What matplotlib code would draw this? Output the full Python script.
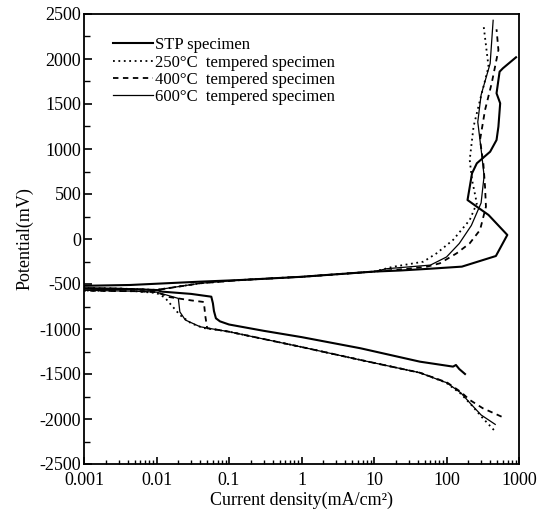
import matplotlib
matplotlib.use("Agg")
import matplotlib.pyplot as plt
from matplotlib.ticker import LogLocator, MultipleLocator, FixedLocator, NullFormatter

# ---- data: current density (mA/cm2) and potential (mV), in scan order ----
stp_i = [180, 150, 135, 123, 43, 6.5, 1, 0.3, 0.1, 0.075, 0.066, 0.062, 0.06, 0.057,
         0.03, 0.012, 0.01, 0.005, 0.002, 0.001,
         0.001, 0.0043, 0.04, 0.15, 1, 10, 23, 60, 163, 480, 690, 380, 262, 195, 225,
         262, 400, 490, 520, 550, 490, 540, 600, 910]
stp_e = [-1500, -1445, -1400, -1418, -1363, -1214, -1090, -1020, -950, -915, -881, -800, -715, -641,
         -610, -585, -567, -560, -556, -553,
         -520, -511, -474, -455, -420, -362, -350, -330, -307, -189, 45, 267, 359, 433, 730,
         841, 970, 1100, 1248, 1508, 1619, 1859, 1897, 2019]

t250_i = [450, 316, 224, 158, 100, 91, 43, 6.5, 1, 0.1, 0.06, 0.045, 0.03, 0.021, 0.013, 0.01,
          0.005, 0.001, 0.001, 0.003, 0.01, 0.04, 0.15, 1, 10, 18, 48, 73, 123, 209, 262,
          225, 209, 236, 290, 380, 324]
t250_e = [-2122, -1990, -1850, -1720, -1600, -1585, -1486, -1344, -1200, -1030, -1003, -990, -937,
          -844, -650, -600, -580, -572, -545, -550, -565, -492, -455, -420, -362, -310, -252,
          -159, -11, 211, 397, 656, 878, 1248, 1544, 1914, 2378]

t400_i = [575, 316, 210, 158, 100, 91, 43, 6.5, 1, 0.1, 0.06, 0.05, 0.047, 0.045, 0.03, 0.015,
          0.01, 0.005, 0.001, 0.001, 0.003, 0.01, 0.04, 0.15, 1, 10, 30, 54, 81, 138, 209,
          290, 350, 340, 322, 290, 340, 420, 520, 490]
t400_e = [-1974, -1880, -1789, -1700, -1590, -1580, -1486, -1344, -1200, -1030, -1000, -992, -850,
          -700, -682, -645, -590, -580, -575, -548, -552, -567, -492, -455, -420, -362, -330,
          -307, -270, -159, -48, 100, 359, 581, 841, 1100, 1433, 1730, 2100, 2330]

t600_i = [470, 300, 215, 158, 100, 91, 43, 6.5, 1, 0.1, 0.06, 0.04, 0.025, 0.021, 0.02, 0.01,
          0.005, 0.001, 0.001, 0.003, 0.01, 0.04, 0.15, 1, 10, 15, 60, 100, 150, 220, 300,
          330, 300, 270, 300, 400, 440]
t600_e = [-2060, -1955, -1830, -1710, -1595, -1585, -1486, -1344, -1200, -1030, -1000, -975,
          -900, -810, -660, -590, -580, -570, -542, -548, -566, -492, -455, -420, -362, -330,
          -290, -200, -50, 150, 400, 700, 1000, 1300, 1600, 1950, 2430]

labels = ["STP specimen", "250°C  tempered specimen",
          "400°C  tempered specimen", "600°C  tempered specimen"]

x_ticks = [0.001, 0.01, 0.1, 1, 10, 100, 1000]
x_ticklabels = ["0.001", "0.01", "0.1", "1", "10", "100", "1000"]
y_ticks = [-2500, -2000, -1500, -1000, -500, 0, 500, 1000, 1500, 2000, 2500]

# ---- figure ----
plt.rcParams['font.family'] = ['Liberation Serif', 'DejaVu Serif']
plt.rcParams['axes.unicode_minus'] = False
fig = plt.figure(figsize=(5.39, 5.17), dpi=100)
ax = fig.add_axes([84/539, 1 - 464/517, (519-84)/539, (464-14)/517])

ax.plot(stp_i, stp_e, color='black', lw=1.5, ls='-', label=labels[0])
ax.plot(t250_i, t250_e, color='black', lw=1.3, ls=(0, (1, 2)), label=labels[1])
ax.plot(t400_i, t400_e, color='black', lw=1.3, ls=(0, (3, 2.5)), label=labels[2])
ax.plot(t600_i, t600_e, color='black', lw=0.9, ls='-', label=labels[3])

ax.set_xscale('log')
ax.set_xlim(0.001, 1000)
ax.set_ylim(-2500, 2500)
ax.xaxis.set_major_locator(FixedLocator(x_ticks))
ax.set_xticklabels(x_ticklabels)
ax.xaxis.set_minor_locator(LogLocator(base=10, subs=range(2, 10), numticks=20))
ax.xaxis.set_minor_formatter(NullFormatter())
ax.yaxis.set_major_locator(FixedLocator(y_ticks))
ax.yaxis.set_minor_locator(MultipleLocator(250))

ax.tick_params(axis='both', which='both', direction='in', labelsize=13)
ax.tick_params(axis='x', which='major', length=5, width=1.2, top=False, pad=6)
ax.tick_params(axis='x', which='minor', length=3, width=1.0, top=False)
ax.tick_params(axis='y', which='major', length=6, width=1.2, right=False, pad=2)
ax.tick_params(axis='y', which='minor', length=4, width=1.0, right=False)
for s in ax.spines.values():
    s.set_linewidth(1.3)

ax.set_xlabel("Current density(mA/cm²)", fontsize=13, labelpad=2)
ax.set_ylabel("Potential(mV)", fontsize=13, labelpad=4)

leg = ax.legend(loc='upper left', bbox_to_anchor=(0.052, 0.963), frameon=False,
                fontsize=12, handlelength=2.4, handletextpad=0.1, labelspacing=0.08,
                borderaxespad=0)

fig.savefig("out.png", dpi=100)
